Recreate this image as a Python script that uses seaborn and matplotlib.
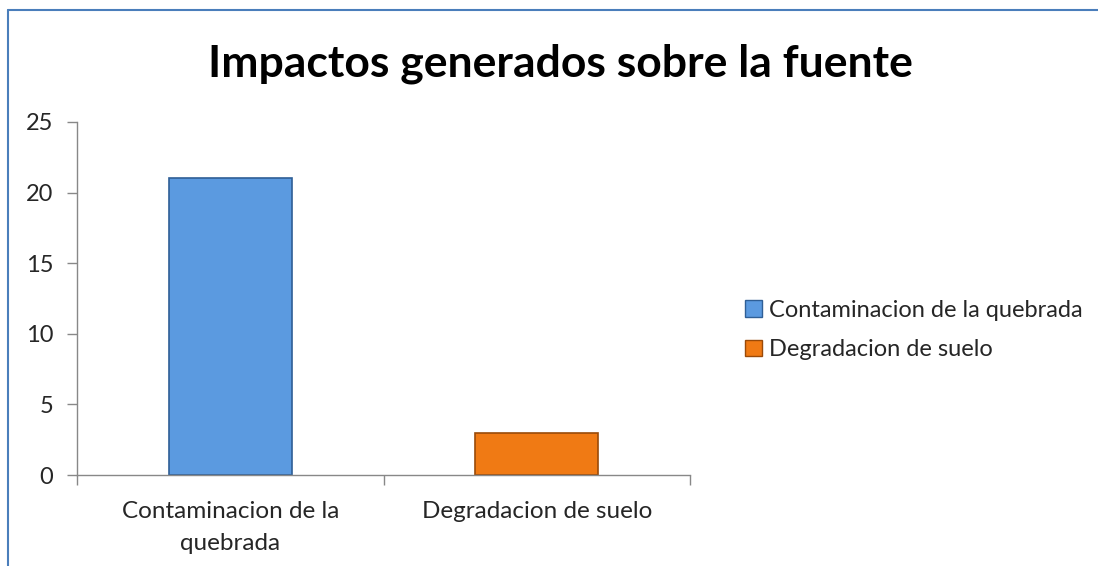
import matplotlib
matplotlib.use("Agg")
import matplotlib.pyplot as plt
import seaborn as sns
import pandas as pd
from matplotlib.lines import Line2D
from matplotlib.patches import Patch

categories = ["Contaminacion de la quebrada", "Degradacion de suelo"]
tick_labels = ["Contaminacion de la\nquebrada", "Degradacion de suelo"]
values = [21, 3]
colors = ["#5B9AE0", "#F07A14"]
edge_colors = ["#2F5F96", "#9A4A08"]
title = "Impactos generados sobre la fuente"

sns.set_theme(style="white")
plt.rcParams["font.family"] = ["Lato", "DejaVu Sans"]

W, H = 1098, 566
fig = plt.figure(figsize=(W / 100, H / 100), dpi=100)
ax = fig.add_axes([77 / W, 1 - 475 / H, (690 - 77) / W, (475 - 122) / H])

df = pd.DataFrame({"cat": categories, "val": values})
sns.barplot(data=df, x="cat", y="val", hue="cat", palette=colors,
            width=0.4, ax=ax, legend=False, saturation=1)
for p, ec in zip(ax.patches, edge_colors):
    p.set_edgecolor(ec)
    p.set_linewidth(1.2)

ax.set_xlim(-0.5, 1.5)
ax.set_ylim(0, 25)
ax.set_yticks([0, 5, 10, 15, 20, 25])
ax.set_xticks([0, 1])
ax.set_xticklabels(tick_labels, fontsize=17.5)
for t in ax.get_xticklabels():
    t.set_linespacing(1.6)
ax.set_xticks([-0.5, 0.5, 1.5], minor=True)
ax.tick_params(axis="x", which="major", length=0, pad=19)
ax.tick_params(axis="x", which="minor", length=7, width=1, color="#888888", direction="out", bottom=True)
ax.tick_params(axis="y", length=7, width=1, color="#888888", direction="out", left=True, labelsize=17, pad=10)
ax.set_xlabel("")
ax.set_ylabel("")
for s in ["top", "right"]:
    ax.spines[s].set_visible(False)
for s in ["left", "bottom"]:
    ax.spines[s].set_color("#888888")
    ax.spines[s].set_linewidth(1)

fig.text(560 / W, 1 - 64 / H, title, ha="center", va="center",
         fontsize=32, fontweight="bold", color="black")

handles = [Patch(facecolor=c, edgecolor=e) for c, e in zip(colors, edge_colors)]
fig.legend(handles, categories, loc="center left",
           bbox_to_anchor=(724 / W, 1 - 330 / H), frameon=False,
           fontsize=17, handlelength=0.7, handleheight=0.7,
           handletextpad=0.3, labelspacing=0.8)

border = "#4A7EBB"
fig.add_artist(Line2D([8 / W, 8 / W], [0, 1 - 10 / H], color=border, lw=1.5, transform=fig.transFigure))
fig.add_artist(Line2D([8 / W, 1], [1 - 10 / H, 1 - 10 / H], color=border, lw=1.5, transform=fig.transFigure))

fig.savefig("out.png", dpi=100, facecolor="white")
